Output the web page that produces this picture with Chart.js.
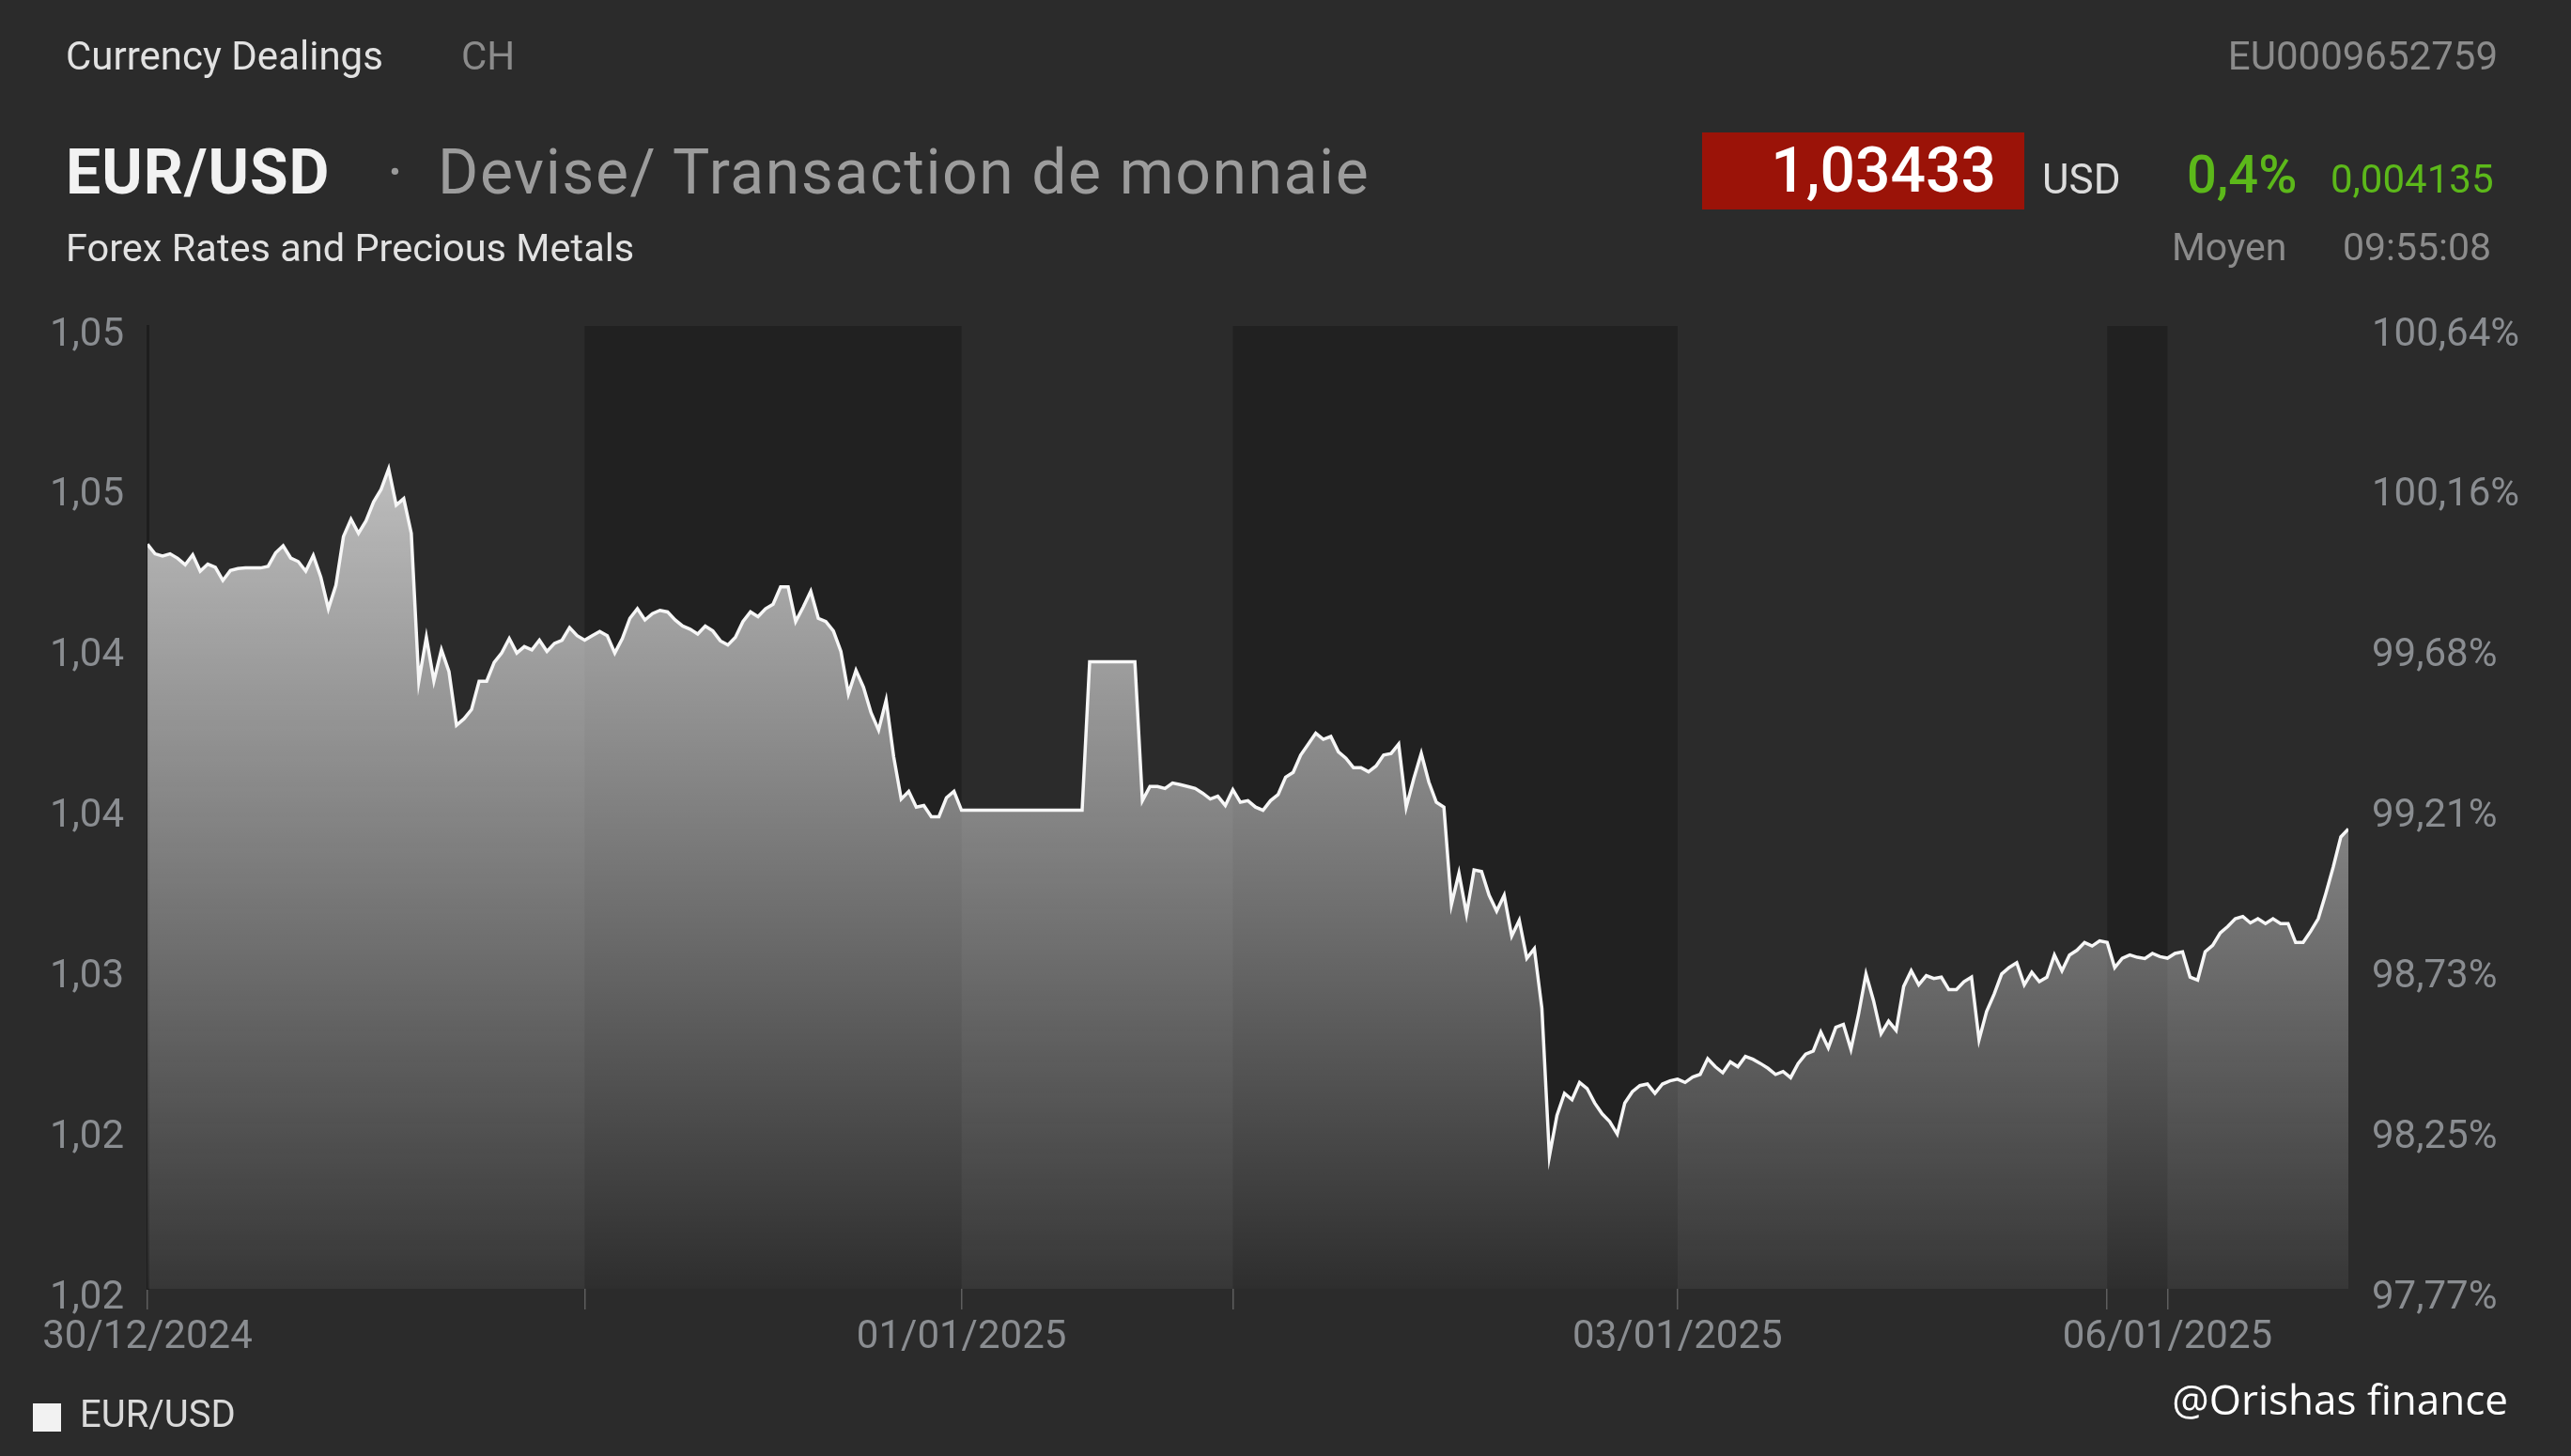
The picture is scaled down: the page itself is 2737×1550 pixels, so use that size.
<!DOCTYPE html>
<html>
<head>
<meta charset="utf-8">
<script src="https://cdn.jsdelivr.net/npm/chart.js@4.4.1/dist/chart.umd.min.js"></script>
<style>
  html, body { margin: 0; padding: 0; background: #2b2b2b; }
  body { width: 2737px; height: 1550px; position: relative; overflow: hidden; font-family: Roboto, "Noto Sans", sans-serif; }
  #chart { position: absolute; left: 0; top: 0; }
  .t { position: absolute; white-space: nowrap; line-height: 1; }
</style>
</head>
<body>
<canvas id="chart" width="2737" height="1550"></canvas>

<div class="t" style="left:70px; top:39px; font-size:42px; color:#e2e2e2;">Currency Dealings</div>
<div class="t" style="left:491px; top:39px; font-size:42px; color:#8b8b8b;">CH</div>
<div class="t" style="right:78px; top:39px; font-size:42px; color:#8b8b8b;">EU0009652759</div>

<div class="t" style="left:70px; top:151px; font-size:66px; font-weight:700; color:#f2f2f2; letter-spacing:1px;">EUR/USD</div>
<div class="t" style="left:412px; top:151px; font-size:66px; color:#9a9a9a;">·</div>
<div class="t" style="left:466px; top:151px; font-size:66px; color:#9c9c9c; letter-spacing:1.6px;">Devise/ Transaction de monnaie</div>
<div class="t" style="left:70px; top:243px; font-size:41.5px; color:#e2e2e2;">Forex Rates and Precious Metals</div>

<div style="position:absolute; left:1812px; top:141px; width:343px; height:82px; background:#9b1308;"></div>
<div class="t" style="right:612px; top:149px; font-size:66px; font-weight:500; color:#ffffff;">1,03433</div>
<div class="t" style="left:2174px; top:169px; font-size:44px; color:#dcdcdc;">USD</div>
<div class="t" style="left:2328px; top:158px; font-size:56px; font-weight:500; color:#5cb81a;">0,4%</div>
<div class="t" style="left:2481px; top:170px; font-size:42px; color:#5cb81a;">0,004135</div>
<div class="t" style="left:2312px; top:243px; font-size:41px; color:#8b8b8b;">Moyen</div>
<div class="t" style="left:2494px; top:243px; font-size:41px; color:#8b8b8b;">09:55:08</div>

<div class="t" style="right:67px; top:1467px; font-size:44px; color:#ffffff; font-family:'Open Sans', sans-serif;">@Orishas finance</div>

<script>
// EUR/USD intraday, one array per session
const day3012 = [
  1.04320, 1.04290, 1.04283, 1.04290, 1.04276, 1.04256, 1.04287, 1.04236, 1.04258, 1.04248,
  1.04207, 1.04238, 1.04244, 1.04246, 1.04246, 1.04246, 1.04251, 1.04293, 1.04315, 1.04277,
  1.04266, 1.04236, 1.04285, 1.04217, 1.04119, 1.04192, 1.04344, 1.04398, 1.04354, 1.04393,
  1.04452, 1.04491, 1.04555, 1.04442, 1.04462, 1.04354, 1.03893, 1.04030, 1.03894, 1.03991,
  1.03923, 1.03756, 1.03776, 1.03805, 1.03893, 1.03893, 1.03952, 1.03981, 1.04026, 1.03981,
  1.04001, 1.03991, 1.04021, 1.03986, 1.04011, 1.04021, 1.04060, 1.04035
];
const day3112 = [
  1.04021, 1.04035, 1.04048, 1.04035, 1.03981, 1.04026, 1.04089, 1.04119, 1.04084, 1.04104,
  1.04114, 1.04109, 1.04084, 1.04065, 1.04055, 1.04040, 1.04065, 1.04050, 1.04019, 1.04006,
  1.04030, 1.04079, 1.04109, 1.04094, 1.04119, 1.04133, 1.04187, 1.04187, 1.04079, 1.04124,
  1.04173, 1.04089, 1.04079, 1.04050, 1.03986, 1.03854, 1.03927, 1.03874, 1.03795, 1.03741,
  1.03834, 1.03658, 1.03526, 1.03550, 1.03501, 1.03506, 1.03471, 1.03471, 1.03530, 1.03550
];
const day0101 = [
  1.03491, 1.03491, 1.03491, 1.03491, 1.03491, 1.03491, 1.03491, 1.03491, 1.03491, 1.03491,
  1.03491, 1.03491, 1.03491, 1.03491, 1.03491, 1.03491, 1.03491,
  1.03954, 1.03954, 1.03954, 1.03954, 1.03954, 1.03954, 1.03954,
  1.03521, 1.03565, 1.03565, 1.03559, 1.03576, 1.03571, 1.03565, 1.03559, 1.03544, 1.03526,
  1.03535, 1.03506
];
const day0201 = [
  1.03555, 1.03516, 1.03521, 1.03501, 1.03491, 1.03521, 1.03540, 1.03594, 1.03609, 1.03663,
  1.03697, 1.03731, 1.03712, 1.03721, 1.03673, 1.03653, 1.03624, 1.03624, 1.03611, 1.03629,
  1.03663, 1.03668, 1.03697, 1.03501, 1.03589, 1.03668, 1.03579, 1.03516, 1.03501, 1.03197,
  1.03295, 1.03168, 1.03305, 1.03300, 1.03226, 1.03177, 1.03226, 1.03099, 1.03148, 1.03030,
  1.03060, 1.02874, 1.02413, 1.02540, 1.02609, 1.02589, 1.02643, 1.02624, 1.02579, 1.02545,
  1.02521, 1.02482, 1.02579, 1.02614, 1.02633, 1.02638, 1.02609, 1.02638, 1.02648
];
const day0301 = [
  1.02653, 1.02643, 1.02660, 1.02668, 1.02717, 1.02692, 1.02673, 1.02707, 1.02692, 1.02724,
  1.02715, 1.02702, 1.02687, 1.02668, 1.02677, 1.02658, 1.02702, 1.02731, 1.02741, 1.02800,
  1.02751, 1.02815, 1.02824, 1.02746, 1.02854, 1.02981, 1.02898, 1.02795, 1.02834, 1.02805,
  1.02942, 1.02991, 1.02947, 1.02976, 1.02967, 1.02971, 1.02932, 1.02932, 1.02957, 1.02971,
  1.02776, 1.02864, 1.02918, 1.02981, 1.03001, 1.03016, 1.02947, 1.02986, 1.02957, 1.02971,
  1.03040, 1.02991, 1.03040, 1.03055, 1.03079, 1.03068, 1.03084
];
const day0501 = [1.03079, 1.03001, 1.03030, 1.03040, 1.03033, 1.03029, 1.03045, 1.03035];
const day0601 = [
  1.03030, 1.03045, 1.03050, 1.02971, 1.02962, 1.03050, 1.03070, 1.03109, 1.03129, 1.03153,
  1.03160, 1.03140, 1.03153, 1.03138, 1.03153, 1.03138, 1.03138, 1.03079, 1.03079, 1.03114,
  1.03153, 1.03231, 1.03315, 1.03408, 1.03433
];

const sessions = [day3012, day3112, day0101, day0201, day0301, day0501, day0601];
const sessionLabels = ["30/12/2024", "", "01/01/2025", "", "03/01/2025", "", "06/01/2025"];
const sessionShaded = [false, true, false, true, false, true, false];

const yTickValues = [1.02, 1.025, 1.03, 1.035, 1.04, 1.045, 1.05];
const yLeftLabels = ["1,02", "1,02", "1,03", "1,04", "1,04", "1,05", "1,05"];
const yRightLabels = ["97,77%", "98,25%", "98,73%", "99,21%", "99,68%", "100,16%", "100,64%"];

const prices = [].concat(...sessions);
const sessionStarts = [];
let acc = 0;
sessions.forEach((s) => { sessionStarts.push(acc); acc += s.length; });
const lastIndex = prices.length - 1;
const points = prices.map((v, i) => ({ x: i, y: v }));

const axisColor = "#8a8d91";
const tickFont = { family: "Roboto", size: 42 };

const sessionBands = {
  id: "sessionBands",
  beforeDatasetsDraw(chart) {
    const { ctx, chartArea, scales } = chart;
    ctx.save();
    ctx.fillStyle = "#212121";
    sessionStarts.forEach((start, k) => {
      if (!sessionShaded[k]) return;
      const end = k + 1 < sessionStarts.length ? sessionStarts[k + 1] : lastIndex;
      const x0 = scales.x.getPixelForValue(start);
      const x1 = scales.x.getPixelForValue(end);
      ctx.fillRect(x0, chartArea.top, x1 - x0, chartArea.bottom - chartArea.top);
    });
    ctx.restore();
  }
};

new Chart(document.getElementById("chart"), {
  type: "line",
  data: {
    datasets: [
      {
        label: "EUR/USD",
        data: points,
        borderColor: "#f7f7f7",
        borderWidth: 3.5,
        pointRadius: 0,
        tension: 0,
        fill: "start",
        yAxisID: "y",
        backgroundColor: (c) => {
          const area = c.chart.chartArea;
          if (!area) return "rgba(255,255,255,0.4)";
          const g = c.chart.ctx.createLinearGradient(0, area.top, 0, area.bottom);
          g.addColorStop(0, "rgba(255,255,255,0.8)");
          g.addColorStop(1, "rgba(255,255,255,0.06)");
          return g;
        }
      }
    ]
  },
  options: {
    responsive: false,
    animation: false,
    devicePixelRatio: 1,
    layout: { padding: { top: 347, left: 25, right: 0, bottom: 11 } },
    plugins: {
      tooltip: { enabled: false },
      legend: {
        position: "bottom",
        align: "start",
        labels: {
          color: "#dadada",
          font: { family: "Roboto", size: 40 },
          boxWidth: 30,
          boxHeight: 30,
          padding: 10,
          generateLabels: (chart) => {
            const items = Chart.defaults.plugins.legend.labels.generateLabels(chart);
            items.forEach((it) => { it.fillStyle = "#f2f2f2"; it.strokeStyle = "#f2f2f2"; it.lineWidth = 0; });
            return items;
          }
        }
      }
    },
    scales: {
      x: {
        type: "linear",
        min: 0,
        max: lastIndex,
        afterBuildTicks: (s) => { s.ticks = sessionStarts.map((v) => ({ value: v })); },
        afterFit: (s) => { s.height = 107; },
        ticks: {
          autoSkip: false,
          maxRotation: 0,
          color: axisColor,
          font: tickFont,
          padding: 5,
          callback: (v, i) => sessionLabels[i]
        },
        grid: { display: true, drawOnChartArea: false, drawTicks: true, tickLength: 22, color: "#5e5e5e", lineWidth: 1.5 },
        border: { display: false }
      },
      y: {
        position: "left",
        min: 1.02,
        max: 1.05,
        afterBuildTicks: (s) => { s.ticks = yTickValues.map((v) => ({ value: v })); },
        afterFit: (s) => { s.width = 132; },
        ticks: { color: axisColor, font: tickFont, padding: 17, labelOffset: 10, callback: (v, i) => yLeftLabels[i] },
        grid: { display: false },
        border: { display: true, color: "#1d1d1d", width: 3 }
      },
      yRight: {
        position: "right",
        min: 1.02,
        max: 1.05,
        afterBuildTicks: (s) => { s.ticks = yTickValues.map((v) => ({ value: v })); },
        afterFit: (s) => { s.width = 237; },
        ticks: { color: axisColor, font: tickFont, padding: 17, labelOffset: 10, callback: (v, i) => yRightLabels[i] },
        grid: { display: false },
        border: { display: false }
      }
    }
  },
  plugins: [sessionBands]
});
</script>
</body>
</html>
